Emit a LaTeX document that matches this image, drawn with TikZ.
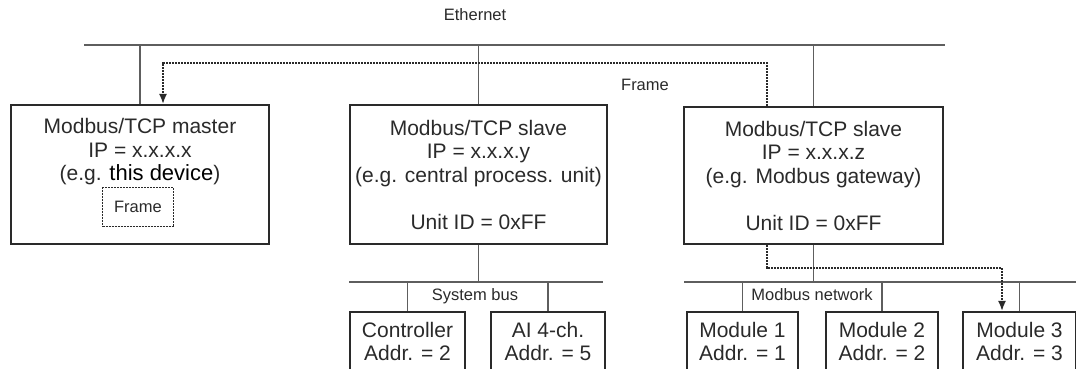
\documentclass[tikz,border=0pt]{standalone}
\usepackage{fontspec}
\setmainfont{Liberation Sans}
\usetikzlibrary{arrows.meta}
\definecolor{linegray}{HTML}{5E5E5E}
\definecolor{inkgray}{HTML}{2A2A2A}

\begin{document}
\begin{tikzpicture}[x=1pt, y=-1pt,
  >={Latex[length=10pt,width=8pt]},
  bus/.style={line width=1.8pt, draw=linegray},
  unit/.style={draw=inkgray, line width=2.2pt, align=center, inner sep=0pt,
    text=inkgray, font=\fontsize{21}{23.5}\selectfont},
  txt/.style={align=center, inner sep=0pt, text=inkgray, font=\fontsize{21}{23.5}\selectfont},
  lbl/.style={inner sep=0pt, text=inkgray, font=\fontsize{16.5}{19}\selectfont},
  flow/.style={line width=1.6pt, draw=inkgray, dash pattern=on 2pt off 1pt},
  framebox/.style={lbl, draw=inkgray, line width=1.6pt, dash pattern=on 2pt off 1pt,
    minimum width=71pt, minimum height=39pt}]
\clip (0,0) rectangle (1076,369);

\path (475, 15) node [lbl] (ethlabel) {Ethernet};
\path ( 84, 45) coordinate (ethL);
\path (945, 45) coordinate (ethR);

\path (140,174.5) node [unit, minimum width=258pt, minimum height=139pt] (master) {};
\path (140,152)   node [txt] (mastertxt) {Modbus/TCP master\\IP = x.x.x.x\\(e.g. {\color{black}\fontsize{22}{23.5}\selectfont this device})};
\path (138,207)   node [framebox] (mframe) {Frame};
\path (478.5,174.5) node [unit, minimum width=257pt, minimum height=139pt] (cpu)
  {Modbus/TCP slave\\IP = x.x.x.y\\(e.g. central process. unit)\\[23.5pt]Unit ID = 0xFF};
\path (813.5,175.5) node [unit, minimum width=259pt, minimum height=137pt] (gateway)
  {Modbus/TCP slave\\IP = x.x.x.z\\(e.g. Modbus gateway)\\[23.5pt]Unit ID = 0xFF};
\path (645, 85) node [lbl] (framelabel) {Frame};

\path (349,282)  coordinate (sysL);
\path (603,282)  coordinate (sysR);
\path (475,296)  node [lbl] (syslabel) {System bus};
\path (407.5,341.5) node [unit, minimum width=115pt, minimum height=59pt] (ctrl) {Controller\\Addr. = 2};
\path (548,341.5)   node [unit, minimum width=114pt, minimum height=59pt] (ai) {AI 4-ch.\\Addr. = 5};

\path (684,282)  coordinate (mbL);
\path (1076,282) coordinate (mbR);
\path (812,295)  node [lbl] (mblabel) {Modbus network};
\path (742.5,341.5) node [unit, minimum width=111pt, minimum height=59pt] (mod1) {Module 1\\Addr. = 1};
\path (882,341.5)   node [unit, minimum width=112pt, minimum height=59pt] (mod2) {Module 2\\Addr. = 2};
\path (1019.5,341.5) node [unit, minimum width=113pt, minimum height=59pt] (mod3) {Module 3\\Addr. = 3};

\draw [bus] (ethL) -- (ethR);
\draw [bus] (master.north) -- (master.north |- ethL);
\draw [bus] (cpu.north) -- (cpu.north |- ethL);
\draw [bus] (gateway.north) -- (gateway.north |- ethL);

\draw [bus] (sysL) -- (sysR);
\draw [bus] (cpu.south) -- (cpu.south |- sysL);
\draw [bus] (ctrl.north) -- (ctrl.north |- sysL);
\draw [bus] (ai.north) -- (ai.north |- sysL);

\draw [bus] (mbL) -- (mbR);
\draw [bus] (gateway.south) -- (gateway.south |- mbL);
\draw [bus] (mod1.north) -- (mod1.north |- mbL);
\draw [bus] (mod2.north) -- (mod2.north |- mbL);
\draw [bus] (mod3.north) -- (mod3.north |- mbL);

\path (767, 63) coordinate (fa);
\path (163, 63) coordinate (fb);
\path (767,268) coordinate (fc);
\path (1002,268) coordinate (fd);
\draw [flow,->] (fa |- gateway.north) -- (fa) -- (fb) -- (fb |- master.north);
\draw [flow,->] (fc |- gateway.south) -- (fc) -- (fd) -- (fd |- mod3.north);
\end{tikzpicture}
\end{document}
